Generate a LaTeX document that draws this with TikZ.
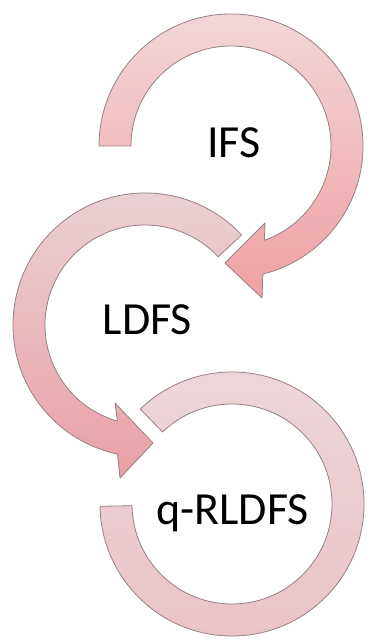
\documentclass[tikz,border=0pt]{standalone}
\usepackage{fontspec}
\setmainfont{Carlito}
\usepackage{tikz}
\definecolor{ringline}{RGB}{150,128,131}
\definecolor{ifstop}{RGB}{243,214,216}
\definecolor{ifsbottom}{RGB}{239,160,164}
\definecolor{ldfstop}{RGB}{235,211,214}
\definecolor{ldfsbottom}{RGB}{232,160,166}
\definecolor{qrtop}{RGB}{237,215,218}
\definecolor{qrbottom}{RGB}{234,194,199}
\tikzset{
    ring/.style={
        draw=ringline,
        line width=0.8pt,
        line join=round,
        shading=axis,
        top color=#1top,
        bottom color=#1bottom
    },
    label/.style={
        anchor=base,
        font=\fontsize{46}{50}\selectfont
    }
}
\begin{document}
\begin{tikzpicture}[x=1pt,y=1pt]
		\useasboundingbox (0,0) rectangle (371,644);

		% IFS arrow
		\begin{scope}[shift={(231,498)}]
		\path[ring=ifs] (180:132) arc[start angle=180, end angle=-76, radius=132]
			-- (31,-152) -- (-6,-117) -- (34,-77)
			-- (-70.5:100) arc[start angle=-70.5, end angle=180, radius=100] -- cycle;
		\end{scope}

		% LDFS arrow
		\begin{scope}[shift={(145,319)}]
		\path[ring=ldfs] (43:132) arc[start angle=43, end angle=258, radius=132]
			-- (-25,-153) -- (8,-118) -- (-30,-78)
			-- (254:100) arc[start angle=254, end angle=43, radius=100] -- cycle;
		\end{scope}

		% q-RLDFS ring
		\begin{scope}[shift={(232,140)}]
		\path[ring=qr] (134:132) arc[start angle=134, end angle=-179, radius=132]
			-- (-179:100) arc[start angle=-179, end angle=134, radius=100] -- cycle;
		\end{scope}

		% labels
		\node[label] (ifs) at (234,486) {IFS};
		\node[label] (ldfs) at (147.5,309) {LDFS};
		\node[label] (qrldfs) at (232.5,119) {q-RLDFS};
\end{tikzpicture}
\end{document}
